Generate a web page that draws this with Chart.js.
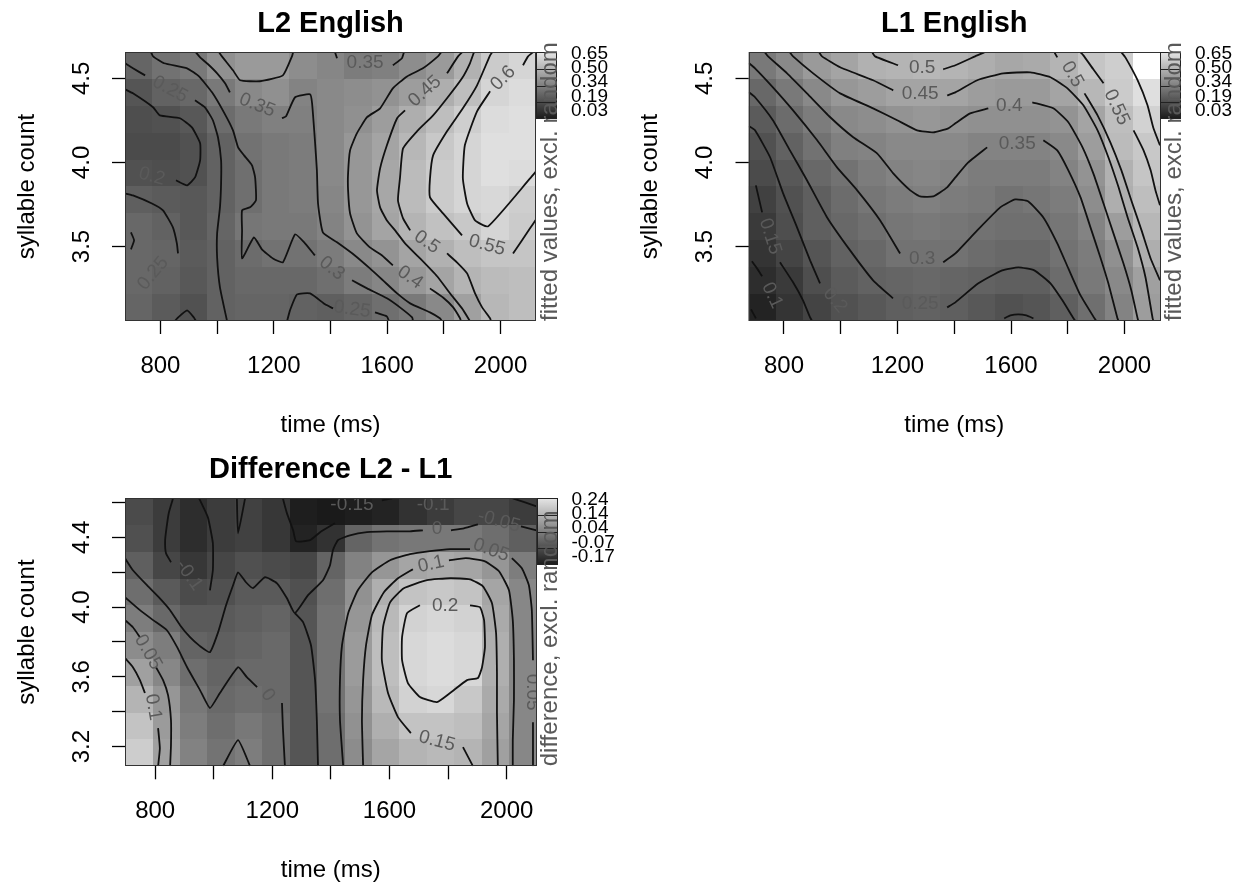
<!DOCTYPE html>
<html><head><meta charset="utf-8">
<script src="https://cdn.jsdelivr.net/npm/chart.js@4.4.1/dist/chart.umd.min.js"></script>
<style>
body{margin:0;background:#fff;width:1244px;height:884px;overflow:hidden;position:relative}
canvas{position:absolute}
</style>
</head><body>
<canvas id="cL2" width="622" height="442" style="left:0;top:0"></canvas>
<canvas id="cL1" width="622" height="442" style="left:622px;top:0"></canvas>
<canvas id="cDiff" width="622" height="442" style="left:0;top:442px"></canvas>
<script>
// ---------------- DATA ----------------
const titles = ['L2 English', 'L1 English', 'Difference L2 - L1'];
const xTitle = 'time (ms)';
const yTitle = 'syllable count';
const zTitles = ['fitted values, excl. random', 'fitted values, excl. random', 'difference, excl. random'];

const xTickValues = [800, 1000, 1200, 1400, 1600, 1800, 2000];
const xTickLabels = [800, 1200, 1600, 2000];
const topYTicks = [3.5, 4.0, 4.5];
const topYLabels = [3.5, 4.0, 4.5];
const diffYTicks = [3.2, 3.4, 3.6, 3.8, 4.0, 4.2, 4.4, 4.6];
const diffYLabels = [3.2, 3.6, 4.0, 4.4];

const topLegendLabels = ['0.65', '0.50', '0.34', '0.19', '0.03'];
const diffLegendLabels = ['0.24', '0.14', '0.04', '-0.07', '-0.17'];
const topRange = [0.03, 0.65];
const diffRange = [-0.17, 0.24];
const topXRange = [675, 2125];
const topYRange = [3.057, 4.657];
const diffXRange = [697, 2102];
const diffYRange = [3.087, 4.625];

// grid cell centres
const topTimeCenters = [723, 820, 917, 1013, 1110, 1207, 1303, 1400, 1497, 1593, 1690, 1787, 1883, 1980, 2077];
const topSylCenters = [4.577, 4.417, 4.257, 4.097, 3.937, 3.777, 3.617, 3.457, 3.297, 3.137];
const diffTimeCenters = [744, 838, 931, 1025, 1119, 1212, 1306, 1400, 1493, 1587, 1681, 1774, 1868, 1962, 2055];
const diffSylCenters = [4.548, 4.394, 4.240, 4.087, 3.933, 3.779, 3.625, 3.472, 3.318, 3.164];

const l2Z = [
 [0.26,0.30,0.32,0.39,0.42,0.42,0.38,0.36,0.33,0.34,0.38,0.42,0.49,0.57,0.60],
 [0.21,0.25,0.27,0.32,0.37,0.39,0.35,0.37,0.38,0.395,0.43,0.48,0.53,0.60,0.62],
 [0.19,0.20,0.22,0.28,0.32,0.34,0.34,0.37,0.39,0.43,0.48,0.53,0.58,0.62,0.63],
 [0.18,0.18,0.20,0.25,0.30,0.32,0.33,0.37,0.41,0.45,0.51,0.56,0.60,0.63,0.63],
 [0.20,0.19,0.20,0.25,0.29,0.32,0.33,0.37,0.41,0.46,0.52,0.57,0.60,0.63,0.62],
 [0.24,0.23,0.22,0.25,0.29,0.32,0.33,0.36,0.41,0.46,0.52,0.57,0.60,0.61,0.58],
 [0.27,0.25,0.22,0.26,0.31,0.32,0.32,0.35,0.40,0.45,0.50,0.54,0.56,0.60,0.57],
 [0.27,0.26,0.23,0.25,0.28,0.30,0.30,0.33,0.37,0.40,0.45,0.49,0.53,0.55,0.55],
 [0.27,0.25,0.22,0.25,0.27,0.27,0.27,0.29,0.33,0.36,0.41,0.45,0.50,0.52,0.53],
 [0.26,0.23,0.20,0.25,0.26,0.26,0.25,0.24,0.26,0.29,0.32,0.37,0.44,0.51,0.53]
];
const l1Z = [
 [0.32,0.37,0.42,0.45,0.49,0.50,0.51,0.50,0.48,0.46,0.47,0.50,0.55,0.58,0.68],
 [0.27,0.32,0.37,0.41,0.43,0.45,0.45,0.45,0.43,0.42,0.42,0.45,0.51,0.57,0.63],
 [0.23,0.28,0.33,0.37,0.38,0.40,0.41,0.40,0.39,0.39,0.39,0.40,0.45,0.53,0.59],
 [0.20,0.25,0.30,0.34,0.35,0.37,0.37,0.37,0.35,0.35,0.35,0.37,0.43,0.52,0.56],
 [0.18,0.22,0.27,0.30,0.33,0.35,0.36,0.35,0.33,0.33,0.33,0.35,0.40,0.49,0.55],
 [0.15,0.20,0.24,0.28,0.31,0.33,0.34,0.33,0.32,0.30,0.31,0.33,0.38,0.48,0.53],
 [0.13,0.19,0.24,0.27,0.29,0.31,0.32,0.31,0.30,0.29,0.29,0.31,0.35,0.43,0.51],
 [0.11,0.16,0.21,0.25,0.27,0.30,0.30,0.30,0.28,0.27,0.27,0.30,0.33,0.39,0.48],
 [0.09,0.13,0.19,0.23,0.25,0.26,0.27,0.26,0.25,0.24,0.24,0.28,0.32,0.37,0.44],
 [0.06,0.11,0.16,0.20,0.22,0.24,0.25,0.24,0.22,0.20,0.21,0.24,0.29,0.35,0.43]
];
const diffZ = [
 [-0.07,-0.10,-0.13,-0.10,-0.09,-0.11,-0.16,-0.17,-0.16,-0.15,-0.12,-0.10,-0.08,-0.08,-0.10],
 [-0.06,-0.10,-0.13,-0.10,-0.09,-0.11,-0.15,-0.12,-0.02,0.01,0.02,0.02,0.02,0.00,-0.03],
 [-0.03,-0.08,-0.11,-0.08,-0.06,-0.07,-0.08,-0.02,0.04,0.08,0.11,0.12,0.11,0.08,0.03],
 [0.00,-0.04,-0.07,-0.06,-0.04,-0.04,-0.06,0.00,0.07,0.13,0.17,0.18,0.17,0.11,0.05],
 [0.03,-0.01,-0.04,-0.04,-0.03,-0.02,-0.05,0.01,0.08,0.15,0.20,0.21,0.20,0.12,0.05],
 [0.06,0.03,-0.02,-0.03,-0.02,-0.01,-0.05,0.01,0.09,0.16,0.21,0.22,0.21,0.13,0.05],
 [0.10,0.05,0.00,-0.02,-0.01,-0.01,-0.05,0.01,0.09,0.16,0.21,0.22,0.21,0.13,0.05],
 [0.14,0.08,0.02,-0.01,0.00,-0.01,-0.05,0.01,0.08,0.15,0.20,0.21,0.18,0.12,0.05],
 [0.17,0.09,0.03,0.00,0.02,0.00,-0.05,0.00,0.07,0.13,0.17,0.17,0.16,0.11,0.05],
 [0.19,0.10,0.04,0.01,0.03,0.00,-0.05,0.00,0.06,0.11,0.14,0.15,0.14,0.10,0.05]
];

// contour polylines [time, syllables]
const l2Lines = [
 [[675,4.435],[703,4.411],[774,4.328],[798,4.280],[869,4.263],[911,4.209],[940,4.114],[940,4.013],[922,3.911],[894,3.864],[855,3.894]],
 [[675,4.590],[703,4.560],[746,4.518]],
 [[922,4.370],[957,4.328],[985,4.251],[1003,4.150],[1014,4.013],[1014,3.876],[1010,3.733],[1000,3.578],[1000,3.435],[1010,3.257],[1035,3.057]],
 [[675,3.816],[703,3.804],[770,3.756],[809,3.715],[844,3.614],[858,3.519],[862,3.459]],
 [[696,3.584],[707,3.537],[696,3.483]],
 [[851,3.057],[862,3.078],[894,3.120],[918,3.078],[925,3.057]],
 [[767,4.655],[774,4.631],[813,4.590],[894,4.560],[936,4.512],[982,4.417],[1024,4.298],[1056,4.191],[1074,4.090],[1095,4.042],[1123,3.983],[1134,3.911],[1137,3.774],[1116,3.733],[1088,3.715],[1088,3.596],[1088,3.429],[1130,3.554],[1158,3.483],[1197,3.429],[1232,3.406],[1275,3.572],[1310,3.519],[1345,3.447]],
 [[1476,3.299],[1529,3.251],[1599,3.192],[1645,3.138],[1688,3.078],[1691,3.057]],
 [[1416,4.655],[1423,4.620]],
 [[1620,4.578],[1652,4.620],[1659,4.655]],
 [[925,4.655],[940,4.625],[968,4.584],[1000,4.530],[1028,4.471],[1045,4.417]],
 [[1229,4.263],[1243,4.274],[1275,4.388],[1328,4.405],[1335,4.352],[1345,4.132],[1352,3.953],[1356,3.756],[1373,3.584],[1423,3.525],[1486,3.447],[1539,3.370],[1585,3.299],[1635,3.221],[1681,3.162],[1751,3.108],[1786,3.073],[1793,3.057]],
 [[1007,4.655],[1017,4.631],[1056,4.548],[1081,4.489],[1151,4.483],[1232,4.518],[1264,4.631],[1268,4.655]],
 [[1790,4.655],[1779,4.631],[1726,4.560],[1670,4.512],[1620,4.441],[1575,4.322],[1529,4.269],[1493,4.173],[1469,4.072],[1462,3.935],[1462,3.834],[1469,3.697],[1493,3.578],[1539,3.495],[1582,3.447],[1620,3.388]],
 [[1751,3.251],[1797,3.197],[1833,3.138],[1857,3.073],[1860,3.057]],
 [[1864,4.655],[1850,4.631],[1811,4.530]],
 [[1663,4.310],[1635,4.263],[1599,4.102],[1575,3.965],[1564,3.834],[1575,3.733],[1599,3.655],[1628,3.596],[1663,3.519],[1716,3.429],[1776,3.323],[1822,3.221],[1864,3.132],[1892,3.057]],
 [[1906,4.655],[1892,4.590],[1864,4.501],[1811,4.382],[1762,4.280],[1705,4.185],[1656,4.084],[1645,3.905],[1638,3.774],[1656,3.667],[1681,3.596]],
 [[1811,3.459],[1846,3.406],[1882,3.340],[1910,3.221],[1935,3.138],[1963,3.073],[1966,3.057]],
 [[1970,4.655],[1963,4.637],[1917,4.459],[1867,4.322],[1811,4.185],[1762,4.042],[1751,3.905],[1751,3.792],[1797,3.697],[1864,3.566]],
 [[2044,3.459],[2104,3.608],[2125,3.661]],
 [[2114,4.655],[2097,4.631],[2079,4.578]],
 [[1963,4.423],[1917,4.304],[1874,4.102],[1867,3.905],[1882,3.756],[1910,3.655],[1956,3.620],[2104,3.905],[2125,3.947]],
 [[1247,3.057],[1257,3.120],[1282,3.215],[1328,3.221],[1381,3.156],[1409,3.132]],
 [[1557,3.108],[1599,3.084],[1606,3.057]]
];
const l2Labels = [
 ['0.2',770,3.917,15],['0.25',834,4.435,28],['0.25',774,3.340,-50],['0.3',1405,3.370,38],
 ['0.35',1522,4.590,0],['0.35',1141,4.340,22],['0.4',1681,3.316,35],['0.45',1733,4.423,-42],
 ['0.5',1740,3.525,35],['0.55',1952,3.507,15],['0.6',2009,4.501,-45],['0.25',1476,3.126,8]
];

const l1Lines = [
 [[687,3.412],[705,3.370],[723,3.323]],
 [[684,3.126],[701,3.073]],
 [[701,3.864],[705,3.834],[723,3.703]],
 [[786,3.406],[832,3.287],[867,3.180],[892,3.078],[899,3.057]],
 [[677,4.215],[698,4.191],[751,4.031],[797,3.816],[846,3.614],[892,3.418],[927,3.281]],
 [[677,4.417],[698,4.388],[761,4.251],[821,4.072],[881,3.894],[952,3.673],[1033,3.477],[1114,3.299],[1184,3.192]],
 [[1375,3.138],[1404,3.168],[1485,3.281],[1569,3.358],[1626,3.376],[1682,3.358],[1739,3.281],[1781,3.180],[1820,3.073],[1827,3.057]],
 [[677,4.590],[698,4.560],[761,4.447],[832,4.310],[917,4.132],[987,3.971],[1058,3.834],[1139,3.655],[1209,3.459]],
 [[1361,3.406],[1404,3.459],[1481,3.596],[1562,3.733],[1615,3.780],[1661,3.768],[1714,3.673],[1763,3.519],[1802,3.370],[1845,3.209],[1894,3.073],[1901,3.057]],
 [[733,4.655],[744,4.631],[811,4.530],[881,4.411],[963,4.269],[1044,4.150],[1128,4.054],[1185,3.935],[1245,3.834],[1280,3.798],[1326,3.798],[1375,3.852],[1404,3.911],[1446,3.995],[1516,4.090]],
 [[1714,4.132],[1763,4.072],[1802,3.953],[1845,3.792],[1880,3.614],[1915,3.435],[1943,3.281],[1975,3.073],[1979,3.057]],
 [[821,4.655],[832,4.631],[903,4.530],[998,4.411],[1114,4.322],[1199,4.251],[1269,4.191],[1326,4.179],[1379,4.203],[1404,4.233],[1456,4.292],[1520,4.322]],
 [[1675,4.358],[1749,4.322],[1802,4.239],[1852,4.090],[1890,3.935],[1926,3.756],[1961,3.578],[1996,3.400],[2024,3.239],[2046,3.073],[2049,3.057]],
 [[924,4.655],[934,4.631],[998,4.566],[1114,4.489],[1185,4.429]],
 [[1375,4.399],[1404,4.417],[1481,4.489],[1573,4.530],[1668,4.536],[1739,4.507],[1799,4.441],[1855,4.340],[1905,4.191],[1943,4.031],[1979,3.852],[2011,3.673],[2046,3.495],[2074,3.316],[2099,3.073],[2102,3.057]],
 [[1111,4.655],[1121,4.631],[1202,4.578]],
 [[1361,4.554],[1404,4.578],[1481,4.637],[1506,4.655]],
 [[1753,4.655],[1763,4.625]],
 [[1859,4.411],[1905,4.280],[1950,4.120],[1989,3.953],[2024,3.774],[2060,3.596],[2092,3.429],[2125,3.299]],
 [[1845,4.655],[1855,4.637],[1890,4.554],[1926,4.471]],
 [[2032,4.191],[2067,4.072],[2092,3.953],[2109,3.834],[2125,3.745]],
 [[1989,4.655],[2003,4.625],[2046,4.489],[2081,4.340],[2102,4.203],[2125,4.102]],
 [[1576,3.073],[1598,3.090],[1626,3.096],[1654,3.090],[1679,3.073]]
];
const l1Labels = [
 ['0.1',758,3.209,65],['0.15',751,3.560,72],['0.2',980,3.180,50],['0.25',1280,3.162,0],
 ['0.3',1287,3.429,0],['0.35',1622,4.114,0],['0.4',1594,4.340,0],['0.45',1280,4.411,0],
 ['0.5',1287,4.566,0],['0.5',1816,4.524,60],['0.55',1972,4.328,65]
];

const diffLines = [
 [[861,4.623],[847,4.543],[840,4.469],[834,4.383],[837,4.308],[854,4.257]],
 [[987,4.096],[997,4.211],[997,4.366],[980,4.514],[950,4.623]],
 [[1079,4.623],[1083,4.423],[1107,4.623]],
 [[1236,4.623],[1250,4.537],[1271,4.440],[1281,4.377],[1329,4.383],[1363,4.429],[1414,4.480]],
 [[1574,4.612],[1609,4.623]],
 [[2021,4.623],[2063,4.600],[2102,4.577]],
 [[697,4.280],[724,4.211],[772,4.125],[816,4.050],[851,3.982],[885,3.896],[919,3.827],[953,3.776],[987,3.741],[1015,3.856],[1042,4.010],[1066,4.125],[1083,4.199],[1110,4.142],[1134,4.108],[1175,4.171],[1216,4.136],[1250,4.050],[1277,3.965],[1322,4.068],[1373,4.154],[1397,4.240],[1407,4.326],[1424,4.383],[1465,4.411],[1523,4.429],[1591,4.434],[1670,4.434],[1714,4.440]],
 [[1810,4.440],[1854,4.451],[1902,4.474]],
 [[2049,4.463],[2102,4.440]],
 [[1356,3.088],[1352,3.352],[1346,3.581],[1332,3.781],[1305,3.913],[1277,3.965]],
 [[1442,3.088],[1431,3.352],[1431,3.581],[1438,3.781],[1459,3.965],[1492,4.096],[1540,4.199],[1602,4.268],[1670,4.303],[1738,4.320],[1807,4.332],[1875,4.332]],
 [[2018,4.280],[2052,4.222],[2076,4.125],[2086,3.982],[2090,3.695]],
 [[2090,3.340],[2090,3.088]],
 [[1510,3.088],[1506,3.352],[1510,3.581],[1520,3.781],[1540,3.953],[1581,4.085],[1629,4.165],[1680,4.217]],
 [[1803,4.268],[1861,4.280],[1926,4.262],[1974,4.205],[2008,4.096],[2021,3.925],[2025,3.695],[2025,3.467],[2021,3.237],[2021,3.088]],
 [[1885,3.088],[1851,3.197]],
 [[1673,3.277],[1629,3.369],[1595,3.507],[1574,3.695],[1578,3.884],[1602,4.027],[1649,4.108],[1728,4.154],[1807,4.165],[1875,4.159],[1919,4.119],[1950,4.022],[1964,3.850],[1967,3.621],[1967,3.392],[1970,3.088]],
 [[1875,4.010],[1909,3.999],[1923,3.925],[1926,3.770],[1916,3.655],[1902,3.593],[1865,3.581],[1807,3.507],[1762,3.455],[1704,3.484],[1663,3.564],[1643,3.695],[1643,3.827],[1660,3.965],[1704,4.010]],
 [[697,4.056],[748,3.982],[793,3.925],[840,3.867],[875,3.770],[909,3.655],[953,3.524],[987,3.421],[1021,3.507],[1083,3.655],[1113,3.598],[1148,3.541]],
 [[1233,3.450],[1236,3.312],[1243,3.088]],
 [[697,3.925],[724,3.884],[748,3.827]],
 [[803,3.655],[827,3.581],[844,3.495],[854,3.352],[854,3.208],[851,3.088]],
 [[697,3.707],[724,3.655],[748,3.581],[765,3.507]],
 [[810,3.306],[816,3.191],[810,3.088]],
 [[1032,3.088],[1083,3.237],[1124,3.088]]
];
const diffLabels = [
 ['-0.1',916,4.182,55],['-0.15',1472,4.589,0],['-0.1',1749,4.589,0],['0',1762,4.451,0],
 ['-0.05',1974,4.492,15],['0.05',1947,4.326,20],['0.05',2086,3.512,90],['0.1',1742,4.245,-12],
 ['0.15',1762,3.231,15],['0.2',1790,4.010,0],['0',1185,3.495,55],['0.05',776,3.741,60],['0.1',793,3.426,80]
];

// ---------------- DRAWING ----------------
const FONT = '"Liberation Sans", Arial, Helvetica, sans-serif';
function grayOf(f) { const g = Math.round(255 * (0.1 + 0.8 * Math.max(0, Math.min(1, f)))); return 'rgb(' + g + ',' + g + ',' + g + ')'; }
function edgesOf(c) {
  const e = [c[0] - (c[1] - c[0]) / 2];
  for (let i = 1; i < c.length; i++) e.push((c[i - 1] + c[i]) / 2);
  e.push(c[c.length - 1] + (c[c.length - 1] - c[c.length - 2]) / 2);
  return e;
}

function buildPanel(id, p) {
  const plugin = {
    id: 'panel' + id,
    beforeDatasetsDraw(chart) {
      const ctx = chart.ctx, a = chart.chartArea, xs = chart.scales.x, ys = chart.scales.y;
      const te = edgesOf(p.times), se = edgesOf(p.syls);
      ctx.save();
      ctx.beginPath(); ctx.rect(a.left, a.top, a.right - a.left, a.bottom - a.top); ctx.clip();
      p.z.forEach((row, i) => row.forEach((v, j) => {
        if (v > p.range[1] || v < p.range[0]) return;
        const x0 = Math.round(xs.getPixelForValue(te[j])), x1 = Math.round(xs.getPixelForValue(te[j + 1]));
        const y0 = Math.round(ys.getPixelForValue(se[i])), y1 = Math.round(ys.getPixelForValue(se[i + 1]));
        ctx.fillStyle = grayOf((v - p.range[0]) / (p.range[1] - p.range[0]));
        ctx.fillRect(Math.min(x0, x1), Math.min(y0, y1), Math.abs(x1 - x0), Math.abs(y1 - y0));
      }));
      ctx.restore();
    },
    afterDatasetsDraw(chart) {
      const ctx = chart.ctx, a = chart.chartArea, xs = chart.scales.x, ys = chart.scales.y;
      ctx.save();
      ctx.beginPath(); ctx.rect(a.left, a.top, a.right - a.left, a.bottom - a.top); ctx.clip();
      ctx.font = '19px ' + FONT; ctx.fillStyle = '#5a5a5a'; ctx.textAlign = 'center'; ctx.textBaseline = 'middle';
      p.labels.forEach(l => {
        ctx.save();
        ctx.translate(xs.getPixelForValue(l[1]), ys.getPixelForValue(l[2]));
        ctx.rotate(l[3] * Math.PI / 180);
        ctx.fillText(l[0], 0, 0);
        ctx.restore();
      });
      ctx.restore();
    },
    afterDraw(chart) {
      const ctx = chart.ctx, a = chart.chartArea, xs = chart.scales.x, ys = chart.scales.y;
      const W = a.right - a.left, H = a.bottom - a.top;
      ctx.save();
      ctx.strokeStyle = '#333'; ctx.lineWidth = 1;
      ctx.strokeRect(Math.round(a.left) + 0.5, Math.round(a.top) + 0.5, Math.round(W) - 1, Math.round(H) - 1);
      // colour key
      const lx = Math.round(a.right), lw = 21, ly = Math.round(a.top), lh = Math.round(H * 0.25);
      const g = ctx.createLinearGradient(0, ly, 0, ly + lh);
      g.addColorStop(0, grayOf(1)); g.addColorStop(1, grayOf(0));
      ctx.fillStyle = g; ctx.fillRect(lx, ly, lw, lh);
      ctx.strokeStyle = '#222';
      for (let k = 1; k < 4; k++) { const yy = Math.round(ly + lh * k / 4) + 0.5; ctx.beginPath(); ctx.moveTo(lx, yy); ctx.lineTo(lx + lw, yy); ctx.stroke(); }
      ctx.strokeRect(lx + 0.5, ly + 0.5, lw - 1, lh - 1);
      ctx.fillStyle = '#000'; ctx.font = '19px ' + FONT; ctx.textAlign = 'left'; ctx.textBaseline = 'middle';
      p.legendLabels.forEach((t, i) => ctx.fillText(t, a.right + 35, a.top + 1.5 + i * 14.3));
      // z title
      ctx.save(); ctx.translate(a.right + 14, a.bottom); ctx.rotate(-Math.PI / 2);
      ctx.fillStyle = '#595959'; ctx.font = '24px ' + FONT; ctx.textAlign = 'left'; ctx.fillText(p.zTitle, 0, 0); ctx.restore();
      // main title
      ctx.fillStyle = '#000'; ctx.textAlign = 'center'; ctx.textBaseline = 'middle';
      ctx.font = 'bold 29px ' + FONT; ctx.fillText(p.title, (a.left + a.right) / 2, a.top - 28);
      ctx.font = '24px ' + FONT;
      p.xLabels.forEach(v => ctx.fillText(String(v), xs.getPixelForValue(v), a.bottom + 45));
      p.yLabels.forEach(v => {
        ctx.save(); ctx.translate(a.left - 43, ys.getPixelForValue(v)); ctx.rotate(-Math.PI / 2);
        ctx.fillText(v.toFixed(1), 0, 0); ctx.restore();
      });
      ctx.fillText(xTitle, (a.left + a.right) / 2, a.bottom + 104);
      ctx.save(); ctx.translate(a.left - 98, (a.top + a.bottom) / 2); ctx.rotate(-Math.PI / 2);
      ctx.fillText(yTitle, 0, 0); ctx.restore();
      ctx.restore();
    }
  };
  const gridOpts = { drawOnChartArea: false, drawTicks: true, tickLength: 13, tickWidth: 1.3, tickColor: '#000', color: '#000' };
  return new Chart(document.getElementById(id), {
    type: 'scatter',
    data: { datasets: p.lines.map(pts => ({
      data: pts.map(q => ({ x: q[0], y: q[1] })),
      showLine: true, borderColor: '#111', borderWidth: 1.8, pointRadius: 0, pointHoverRadius: 0,
      tension: 0.15, fill: false
    })) },
    options: {
      responsive: false, animation: false, devicePixelRatio: 1, events: [],
      layout: { autoPadding: false, padding: p.pad },
      plugins: { legend: { display: false }, tooltip: { enabled: false } },
      scales: {
        x: { type: 'linear', min: p.xRange[0], max: p.xRange[1],
             afterBuildTicks: s => { s.ticks = xTickValues.map(v => ({ value: v })); },
             afterFit: s => { s.height = 60; },
             ticks: { display: false }, grid: gridOpts, border: { display: false } },
        y: { type: 'linear', min: p.yRange[0], max: p.yRange[1],
             afterBuildTicks: s => { s.ticks = p.yTicks.map(v => ({ value: v })); },
             afterFit: s => { s.width = 30; },
             ticks: { display: false }, grid: gridOpts, border: { display: false } }
      }
    },
    plugins: [plugin]
  });
}

buildPanel('cL2', { title: titles[0], zTitle: zTitles[0], times: topTimeCenters, syls: topSylCenters, z: l2Z,
  range: topRange, lines: l2Lines, labels: l2Labels, legendLabels: topLegendLabels,
  xRange: topXRange, yRange: topYRange, yTicks: topYTicks, yLabels: topYLabels, xLabels: xTickLabels,
  pad: { left: 95, right: 86, top: 52, bottom: 61 } });
buildPanel('cL1', { title: titles[1], zTitle: zTitles[1], times: topTimeCenters, syls: topSylCenters, z: l1Z,
  range: topRange, lines: l1Lines, labels: l1Labels, legendLabels: topLegendLabels,
  xRange: topXRange, yRange: topYRange, yTicks: topYTicks, yLabels: topYLabels, xLabels: xTickLabels,
  pad: { left: 96.5, right: 84, top: 52, bottom: 61 } });
buildPanel('cDiff', { title: titles[2], zTitle: zTitles[2], times: diffTimeCenters, syls: diffSylCenters, z: diffZ,
  range: diffRange, lines: diffLines, labels: diffLabels, legendLabels: diffLegendLabels,
  xRange: diffXRange, yRange: diffYRange, yTicks: diffYTicks, yLabels: diffYLabels, xLabels: xTickLabels,
  pad: { left: 95, right: 85.5, top: 56, bottom: 57.7 } });
</script>
</body></html>
